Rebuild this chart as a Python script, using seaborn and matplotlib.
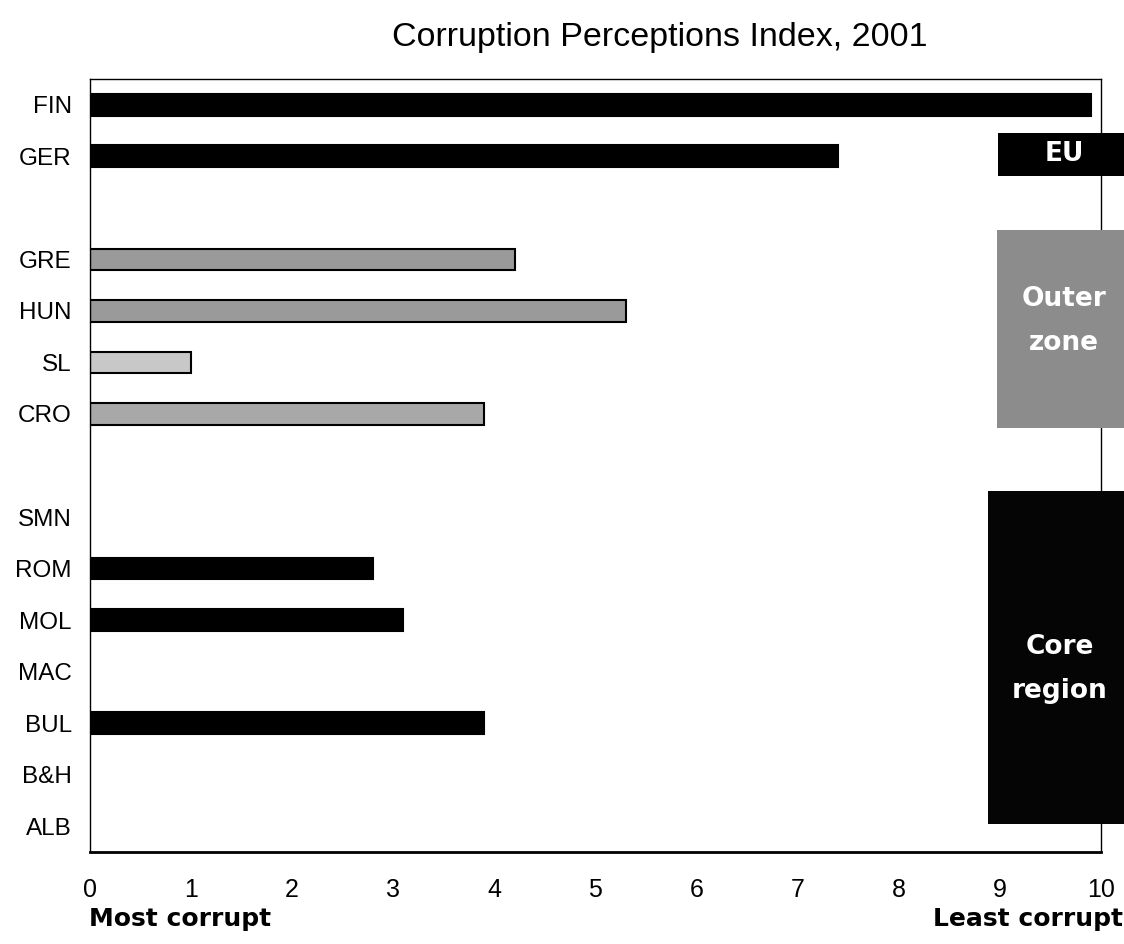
import matplotlib
matplotlib.use("Agg")
import matplotlib.pyplot as plt
import matplotlib.patches as mpatches
import seaborn as sns
import pandas as pd

# Country order top to bottom; blank slots separate the three groups
order = ["FIN", "GER", " ", "GRE", "HUN", "SL", "CRO", "  ",
         "SMN", "ROM", "MOL", "MAC", "BUL", "B&H", "ALB"]

# CPI 2001 scores (countries without a score are left out)
countries = ["FIN", "GER", "GRE", "HUN", "SL", "CRO", "ROM", "MOL", "BUL"]
scores = [9.9, 7.4, 4.2, 5.3, 1.0, 3.9, 2.8, 3.1, 3.9]
groups = ["EU", "EU", "Outer", "Outer", "Outer", "Outer", "Core", "Core", "Core"]

x_ticks = list(range(0, 11))

bar_colors = {"FIN": "#000000", "GER": "#000000",
              "GRE": "#9a9a9a", "HUN": "#9a9a9a", "SL": "#c8c8c8", "CRO": "#a8a8a8",
              "ROM": "#000000", "MOL": "#000000", "BUL": "#000000"}

df = pd.DataFrame({"country": countries, "score": scores, "group": groups})

sns.set_style("white")
plt.rcParams["font.family"] = ["Liberation Sans", "DejaVu Sans"]
plt.rcParams["text.color"] = "black"
plt.rcParams["xtick.color"] = "black"
plt.rcParams["ytick.color"] = "black"

fig = plt.figure(figsize=(11.24, 9.44), dpi=100)
ax = fig.add_axes([0.080, 0.0975, 0.8995, 0.8188])

sns.barplot(data=df, x="score", y="country", hue="country", order=order,
            palette=bar_colors, orient="h", width=0.42, legend=False,
            edgecolor="black", linewidth=1.5, saturation=1, ax=ax)

ax.set_xlim(0, 10)
ax.set_ylim(len(order) - 0.5, -0.5)
ax.set_xticks(x_ticks)
ax.set_xticklabels([str(t) for t in x_ticks], fontsize=18)
ax.set_yticks(range(len(order)))
ax.set_yticklabels(order, fontsize=17.5)
ax.tick_params(axis="x", length=3, pad=16, width=0.8)
ax.tick_params(axis="y", length=0, pad=13)
ax.set_xlabel("")
ax.set_ylabel("")
for s in ax.spines.values():
    s.set_color("black")
    s.set_linewidth(1.0)
ax.spines["bottom"].set_linewidth(2.0)

fig.text(0.587, 0.96, "Corruption Perceptions Index, 2001", ha="center", va="center",
         fontsize=24.5)
fig.text(0.079, 0.027, "Most corrupt", ha="left", va="center", fontsize=18,
         fontweight="heavy", family=["DejaVu Sans"])
fig.text(0.999, 0.027, "Least corrupt", ha="right", va="center", fontsize=18,
         fontweight="heavy", family=["DejaVu Sans"])

# Group boxes on the right edge
def group_box(x0, y0, w, h, color, label, dy=0.0):
    rect = mpatches.Rectangle((x0, y0), w, h, transform=fig.transFigure,
                              facecolor=color, edgecolor="none", zorder=5)
    fig.add_artist(rect)
    fig.text(x0 + w / 2 + 0.003, y0 + h / 2 + dy, label, ha="center", va="center",
             color="white", fontsize=19, fontweight="heavy", linespacing=1.9,
             family=["DejaVu Sans"], zorder=6)

group_box(0.888, 0.8136, 0.112, 0.0456, "#000000", "EU")
group_box(0.887, 0.5466, 0.113, 0.2097, "#8c8c8c", "Outer\nzone", dy=0.009)
group_box(0.879, 0.1271, 0.121, 0.3528, "#050505", "Core\nregion", dy=-0.012)

fig.savefig("out.png", dpi=100)
